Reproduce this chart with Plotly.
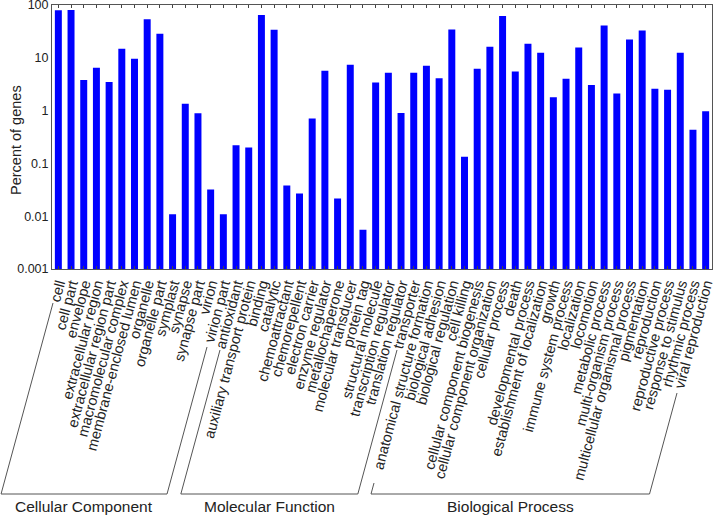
import plotly.graph_objects as go

# ---- data ----
cc_terms = ["cell", "cell part", "envelope", "extracellular region", "extracellular region part",
            "macromolecular complex", "membrane-enclosed lumen", "organelle", "organelle part",
            "symplast", "synapse", "synapse part", "virion", "virion part"]
cc_values = [80, 81, 3.8, 6.5, 3.5, 14.9, 9.6, 54, 28.6, 0.0108, 1.35, 0.89, 0.032, 0.0108]

mf_terms = ["antioxidant", "auxiliary transport protein", "binding", "catalytic", "chemoattractant",
            "chemorepellent", "electron carrier", "enzyme regulator", "metallochaperone",
            "molecular transducer", "protein tag", "structural molecule", "transcription regulator",
            "translation regulator", "transporter"]
mf_values = [0.22, 0.20, 64.7, 34, 0.038, 0.027, 0.71, 5.7, 0.0215, 7.4, 0.0055, 3.4, 5.2, 0.9, 5.2]

bp_terms = ["anatomical structure formation", "biological adhesion", "biological regulation",
            "cell killing", "cellular component biogenesis", "cellular component organization",
            "cellular process", "death", "developmental process", "establishment of localization",
            "growth", "immune system process", "localization", "locomotion", "metabolic process",
            "multi-organism process", "multicellular organismal process", "pigmentation",
            "reproduction", "reproductive process", "response to stimulus", "rhythmic process",
            "viral reproduction"]
bp_values = [7.1, 4.1, 34.6, 0.134, 6.2, 16.3, 62, 5.5, 18.5, 12.5, 1.8, 4.0, 15.8, 3.05, 41,
             2.1, 22.4, 33, 2.6, 2.5, 12.5, 0.435, 0.97]

group_names = ["Cellular Component", "Molecular Function", "Biological Process"]
y_ticks = [0.001, 0.01, 0.1, 1, 10, 100]
y_tick_labels = ["0.001", "0.01", "0.1", "1", "10", "100"]
y_title = "Percent of genes"

terms = cc_terms + mf_terms + bp_terms
values = cc_values + mf_values + bp_values

# ---- layout geometry (pixels) ----
W, H = 714, 516
L, R, T, B = 52, 2, 5, 247
plot_w = W - L - R
plot_h = H - T - B
FONT = "Liberation Sans, Arial, Helvetica, sans-serif"
TXT = "#222222"


def xp(px):
    return (px - L) / plot_w


def yp(py):
    return (H - B - py) / plot_h


fig = go.Figure()
fig.add_trace(go.Bar(
    x=list(range(len(terms))), y=values,
    marker=dict(color="#0000ff", line=dict(width=0)),
    width=0.55,
))

# bracket geometry: (left top, right top) pixel points, bottom baseline
bottom_y = 494
slope = 0.272  # dx per dy, parallel to rotated labels
bracket_tops = [((53, 303), (207, 347)),
                ((220, 350), (397, 350)),
                ((374, 483), (677, 393))]

shapes = []
annotations = []
for name, (lt, rt) in zip(group_names, bracket_tops):
    lb = (lt[0] - slope * (bottom_y - lt[1]), bottom_y)
    rb = (rt[0] - slope * (bottom_y - rt[1]), bottom_y)
    path = "M {},{} L {},{} L {},{} L {},{}".format(
        xp(lt[0]), yp(lt[1]), xp(lb[0]), yp(lb[1]),
        xp(rb[0]), yp(rb[1]), xp(rt[0]), yp(rt[1]))
    shapes.append(dict(type="path", xref="paper", yref="paper", path=path,
                       line=dict(color="#555555", width=1)))
    annotations.append(dict(x=xp((lb[0] + rb[0]) / 2), y=yp(507), xref="paper", yref="paper",
                            text=name, showarrow=False, xanchor="center", yanchor="middle",
                            font=dict(family=FONT, size=15.5, color=TXT)))

# y-axis title
annotations.append(dict(x=xp(16), y=yp(140), xref="paper", yref="paper", text=y_title,
                        textangle=-90, showarrow=False, xanchor="center", yanchor="middle",
                        font=dict(family=FONT, size=14.5, color=TXT)))

fig.update_layout(
    width=W, height=H,
    margin=dict(l=L, r=R, t=T, b=B, autoexpand=False),
    paper_bgcolor="white", plot_bgcolor="white",
    showlegend=False,
    shapes=shapes,
    annotations=annotations,
    font=dict(family=FONT, color=TXT),
    xaxis=dict(
        tickmode="array", tickvals=list(range(len(terms))), ticktext=terms,
        tickangle=-75, tickfont=dict(family=FONT, size=14.5, color=TXT),
        ticklabeloverflow="allow",
        range=[-0.5, len(terms) - 0.5],
        ticks="inside", ticklen=3, tickcolor="#444444",
        showline=True, linecolor="#555555", linewidth=1, mirror="ticks",
        showgrid=False, zeroline=False,
    ),
    yaxis=dict(
        type="log", range=[-3.002, 2.002],
        tickmode="array", tickvals=y_ticks, ticktext=y_tick_labels,
        tickfont=dict(family=FONT, size=12.5, color=TXT),
        ticklabeloverflow="allow",
        ticks="", showline=True, linecolor="#555555", linewidth=1, mirror=True,
        showgrid=False, zeroline=False,
    ),
)

fig.write_html("out.html", config={"displayModeBar": False},
               post_script="document.body.style.margin='0';document.body.style.overflow='hidden';")
